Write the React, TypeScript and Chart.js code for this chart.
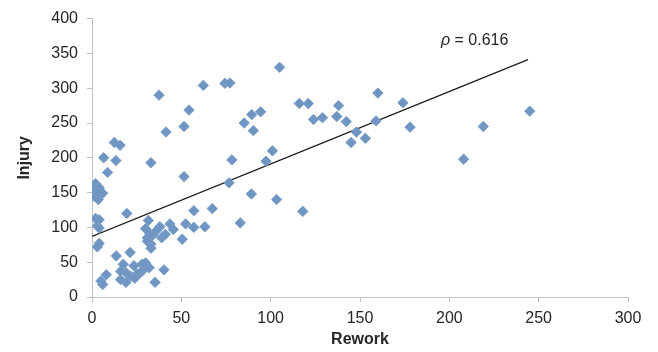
import React, { useEffect, useRef } from "react";
import { Chart, registerables } from "chart.js";

Chart.register(...registerables);

// Rework (x) values
const rework: number[] = [
  0.7, 2, 4, 6, 1.5, 3.5, 3,
  12.5, 15.7, 6.5, 13.4, 8.7,
  19.5, 2, 4, 3, 4,
  4, 3,
  13.6, 21.3,
  5, 8, 6,
  17.5, 16, 19, 23.5, 28, 30, 21.6, 19, 16, 25.3, 28, 32, 24, 27,
  31, 33, 31.5, 30, 32, 34, 31, 33, 36, 38, 43.6, 45.5, 39, 41,
  40.3, 35.3,
  50.5, 52.4, 57, 63.2, 83,
  57, 67.3, 51.5, 33,
  41.4, 37.5, 51.5, 54.3, 62.3, 74.4, 77.2, 105,
  85.2, 89.4, 94.4, 90.3, 101, 78.3, 97.4, 76.7, 89.2, 103.3, 118,
  116, 121, 124, 129, 138, 137, 142.3, 148, 145, 153, 159, 160, 174, 178, 208, 219, 245,
];

// Injury (y) values
const injury: number[] = [
  153, 163, 157, 149, 144, 140, 150,
  222, 218, 200, 196, 179,
  120, 113, 111, 102, 99,
  77, 72,
  59, 64,
  23, 32, 18,
  47, 37, 35, 45, 47, 49, 30, 21, 25, 33, 37, 42, 27, 35,
  85, 76, 110, 98, 92, 89, 80, 70, 95, 101, 105, 97, 85, 90,
  39, 21,
  83, 105, 100, 101, 106.5,
  124, 127, 173, 193,
  237, 290, 245, 268.6, 304, 307, 307.5, 330,
  250, 262, 266, 239, 210, 197, 195, 164, 148, 140, 123,
  278, 278, 255, 257.5, 275, 259.4, 252, 237, 222, 228, 253, 293, 279, 244, 198, 245, 267,
];

// Linear trend line end points
const trendX: number[] = [0, 244];
const trendY: number[] = [87, 341];

const xTicks: number[] = [0, 50, 100, 150, 200, 250, 300];
const yTicks: number[] = [0, 50, 100, 150, 200, 250, 300, 350, 400];

const rhoLabel = "ρ";
const rhoValue = " = 0.616";

const FONT = "'Liberation Sans', Arial, Helvetica, sans-serif";

export default function App() {
  const ref = useRef<HTMLCanvasElement | null>(null);

  useEffect(() => {
    if (!ref.current) return;
    const annotPlugin = {
      id: "rhoText",
      afterDraw(chart: any) {
        const { ctx, scales } = chart;
        const px = scales.x.getPixelForValue(195.3);
        const py = scales.y.getPixelForValue(368);
        ctx.save();
        ctx.fillStyle = "#262626";
        ctx.textBaseline = "middle";
        ctx.textAlign = "left";
        ctx.font = `italic 16px ${FONT}`;
        ctx.fillText(rhoLabel, px, py);
        const w = ctx.measureText(rhoLabel).width;
        ctx.font = `16px ${FONT}`;
        ctx.fillText(rhoValue, px + w, py);
        ctx.restore();
      },
    };

    const chart = new Chart(ref.current, {
      type: "scatter",
      data: {
        datasets: [
          {
            type: "scatter",
            data: rework.map((x, i) => ({ x, y: injury[i] })),
            pointStyle: "rectRot",
            pointRadius: 5.2,
            pointBackgroundColor: "#6f95c3",
            pointBorderColor: "#7a9dc8",
            pointBorderWidth: 1,
          } as any,
          {
            type: "line",
            data: trendX.map((x, i) => ({ x, y: trendY[i] })),
            borderColor: "#1a1a1a",
            borderWidth: 1.2,
            pointRadius: 0,
            fill: false,
          } as any,
        ],
      },
      options: {
        responsive: false,
        animation: false,
        layout: { padding: { top: 18, right: 30, left: 0, bottom: 0 } },
        plugins: {
          legend: { display: false },
          tooltip: { enabled: false },
        },
        scales: {
          x: {
            type: "linear",
            min: 0,
            max: 300,
            afterBuildTicks: (s: any) => {
              s.ticks = xTicks.map((v) => ({ value: v }));
            },
            afterFit: (s: any) => {
              s.height = 55;
            },
            grid: {
              display: true,
              drawOnChartArea: false,
              drawTicks: true,
              tickLength: 5,
              color: "#bfbfbf",
            },
            border: { color: "#bfbfbf", width: 1 },
            ticks: {
              color: "#262626",
              font: { family: FONT, size: 16 },
              padding: 7,
              maxRotation: 0,
            },
            title: {
              display: true,
              text: "Rework",
              color: "#262626",
              font: { family: FONT, size: 16, weight: "bold" },
              padding: { top: 0, bottom: 3 },
            },
          },
          y: {
            type: "linear",
            min: 0,
            max: 400,
            afterBuildTicks: (s: any) => {
              s.ticks = yTicks.map((v) => ({ value: v }));
            },
            afterFit: (s: any) => {
              s.width = 92;
            },
            grid: {
              display: true,
              drawOnChartArea: false,
              drawTicks: true,
              tickLength: 5,
              color: "#bfbfbf",
            },
            border: { color: "#bfbfbf", width: 1 },
            ticks: {
              color: "#262626",
              font: { family: FONT, size: 16 },
              padding: 9,
            },
            title: {
              display: true,
              text: "Injury",
              color: "#262626",
              font: { family: FONT, size: 16, weight: "bold" },
              padding: { top: 15, bottom: 0 },
            },
          },
        },
      },
      plugins: [annotPlugin],
    } as any);

    return () => chart.destroy();
  }, []);

  return (
    <div style={{ position: "absolute", left: 0, top: 0, width: 658, height: 352, background: "#fff" }}>
      <canvas ref={ref} width={658} height={352} />
    </div>
  );
}
